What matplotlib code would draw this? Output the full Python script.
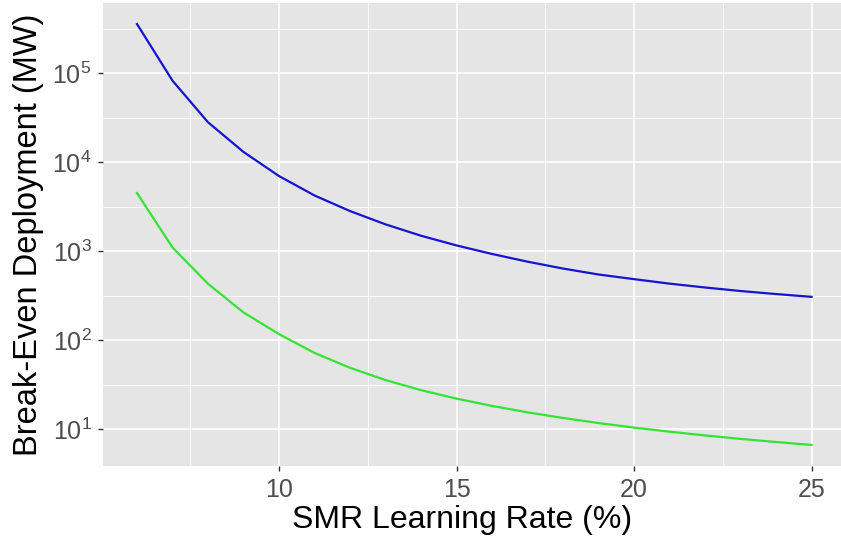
import numpy as np
import matplotlib
matplotlib.use("Agg")
import matplotlib.pyplot as plt
from matplotlib.ticker import FixedLocator, NullFormatter, LogFormatterSciNotation

plt.rcParams["font.family"] = ["Liberation Sans", "DejaVu Sans"]
plt.rcParams["mathtext.default"] = "regular"

# SMR learning rate (%) and break-even deployment (MW) for the two cases
learning_rate = [6, 7, 8, 9, 10, 11, 12, 13, 14, 15, 16, 17, 18, 19, 20, 21, 22, 23, 24, 25]
deploy_high = [355000, 82000, 28000, 13000, 6970, 4220, 2820, 2000, 1490, 1160,
               930, 762, 638, 547, 485, 432, 391, 357, 330, 307]
deploy_low = [4490, 1100, 430, 205, 117, 72, 49, 35.7, 27.5, 22.1,
              18.3, 15.5, 13.4, 11.75, 10.45, 9.4, 8.53, 7.8, 7.2, 6.67]

x_major = [10, 15, 20, 25]
x_minor = [7.5, 12.5, 17.5, 22.5]
y_major = [1e1, 1e2, 1e3, 1e4, 1e5]
y_minor = [10 ** 1.5, 10 ** 2.5, 10 ** 3.5, 10 ** 4.5, 10 ** 5.5]

W, H = 841, 544
fig = plt.figure(figsize=(W / 100, H / 100), dpi=100)
ax = fig.add_axes([103.3 / W, 78 / H, 742 / W, 463 / H])
ax.set_facecolor("#E5E5E5")

ax.plot(learning_rate, deploy_high, color="#1414D2", lw=1.6, zorder=3)
ax.plot(learning_rate, deploy_low, color="#33E433", lw=1.6, zorder=3)

ax.set_yscale("log")

# ggplot-style 5% expansion of the data range
xmin, xmax = min(learning_rate), max(learning_rate)
xr = xmax - xmin
ax.set_xlim(xmin - 0.05 * xr, xmax + 0.05 * xr)
lo = np.log10(min(deploy_low))
hi = np.log10(max(deploy_high))
lr = hi - lo
ax.set_ylim(10 ** (lo - 0.05 * lr), 10 ** (hi + 0.05 * lr))

ax.xaxis.set_major_locator(FixedLocator(x_major))
ax.xaxis.set_minor_locator(FixedLocator(x_minor))
ax.yaxis.set_major_locator(FixedLocator(y_major))
ax.yaxis.set_minor_locator(FixedLocator(y_minor))
ax.yaxis.set_major_formatter(LogFormatterSciNotation())
ax.yaxis.set_minor_formatter(NullFormatter())

ax.grid(which="major", color="white", lw=1.2, zorder=1)
ax.grid(which="minor", color="white", lw=0.6, zorder=1)
ax.set_axisbelow(True)

for s in ax.spines.values():
    s.set_visible(False)

ax.tick_params(which="major", length=3.5, width=1.0, color="#333333",
               labelcolor="#4D4D4D", labelsize=18, pad=5)
ax.tick_params(which="minor", length=0)

ax.set_xlabel("SMR Learning Rate (%)", fontsize=23, color="black")
ax.xaxis.set_label_coords(0.484, -0.085)
ax.set_ylabel("Break-Even Deployment (MW)", fontsize=23.5, color="black", labelpad=6)

fig.savefig("out.png", dpi=100)
